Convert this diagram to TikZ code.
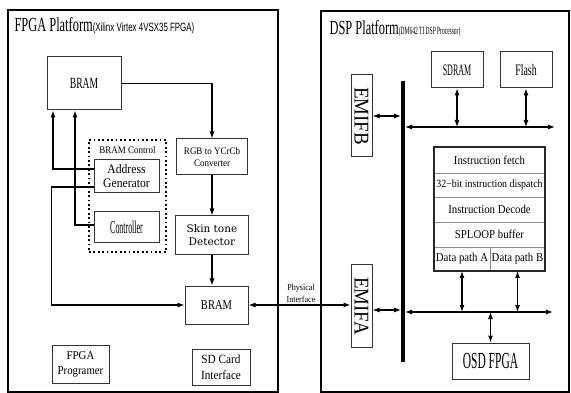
\documentclass[tikz,border=0pt]{standalone}
\usepackage{fontspec}
\usepackage{graphicx}
\setmainfont{Liberation Serif}
\newfontfamily\ftA[FakeStretch=0.9]{Liberation Serif}
\newfontfamily\ftB[FakeStretch=0.78]{Liberation Serif}
\newfontfamily\ftC[FakeStretch=0.62]{Liberation Serif}
\newfontfamily\ftD[FakeStretch=0.5]{Liberation Serif}
\newfontfamily\ftE[FakeStretch=0.44]{Liberation Serif}
\newfontfamily\ftsub[FakeStretch=0.66]{Liberation Sans}
\newfontfamily\ftwide{DejaVu Serif}
\newcommand{\sz}[2]{\fontsize{#1}{#2}\selectfont}
\usetikzlibrary{positioning,calc,arrows.meta,fit}
\tikzset{
	blk/.style={draw=black!80, line width=1pt, fill=white, inner sep=1pt, align=center},
	row/.style={draw=black!45, line width=0.6pt, inner sep=0pt, outer sep=0pt,
		minimum width=111pt, minimum height=25pt, align=center, font=\ftA\sz{12}{14}},
	arr/.style={line width=1.1pt, -{Latex[length=7pt,width=5pt]}},
	darr/.style={line width=1.1pt, {Latex[length=7pt,width=5pt]}-{Latex[length=7pt,width=5pt]}},
}

\begin{document}
\begin{tikzpicture}[x=1pt,y=-1pt]
	\useasboundingbox (0,0) rectangle (571,393);
	% platforms
	\node[draw, line width=1.2pt, minimum width=270pt, minimum height=382pt, inner sep=0] (fpga) at (143,201) {};
	\node[draw, line width=1.2pt, minimum width=248pt, minimum height=381pt, inner sep=0] (dsp) at (445,201.5) {};
	\node[anchor=base west, inner sep=0] (fpgatitle) at ([xshift=7pt,yshift=-22pt]fpga.north west)
		{{\ftC\sz{20}{24}FPGA Platform}{\ftsub\sz{12}{14}(Xilinx Virtex 4VSX35 FPGA)}};
	\node[anchor=base west, inner sep=0] (dsptitle) at ([xshift=9pt,yshift=-24pt]dsp.north west)
		{{\ftC\sz{20}{24}DSP Platform}{\ftD\sz{11}{13}(DM642 TI DSP Processor)}};

	% FPGA side
	\node[blk, minimum width=74pt, minimum height=53pt, font=\ftC\sz{15.5}{18}] (bramtop) at (84,83.5) {BRAM};
	\node[draw, line width=1.6pt, dash pattern=on 1.8pt off 2.6pt, minimum width=77pt, minimum height=112pt] (bramctl) at (127.5,196) {};
	\node[font=\ftA\sz{10}{12}] (bramctltxt) at ([yshift=-11pt]bramctl.north) {BRAM Control};
	\node[blk, minimum width=65pt, minimum height=33pt, font=\ftA\sz{13}{14}] (addr) at (126.5,176.5) {Address\\Generator};
	\node[blk, minimum width=65pt, minimum height=31pt, font=\ftE\sz{18}{20}] (ctrl) at (126.5,227.5) {Controller};
	\node[blk, minimum width=71pt, minimum height=36pt, font=\ftA\sz{10}{12}] (rgb) at (212,157) {RGB to YCrCb\\Converter};
	\node[blk, minimum width=73pt, minimum height=39pt, font=\ftwide\sz{10.5}{13}] (skin) at (212,235.5) {Skin tone\\Detector};
	\node[blk, minimum width=63pt, minimum height=38pt, font=\ftB\sz{13.5}{16}] (brambot) at (216.5,305) {BRAM};
	\node[blk, minimum width=57pt, minimum height=38pt, font=\ftA\sz{12}{15}] (prog) at (80.5,364) {FPGA\\Programer};
	\node[blk, minimum width=58pt, minimum height=36pt, font=\ftA\sz{12.5}{16}] (sdcard) at (221,367) {SD Card\\Interface};

	\draw[arr] (bramtop.east) -| (rgb.north);
	\draw[arr] (rgb.south) -- (skin.north);
	\draw[arr] (skin.south) -- (skin.south |- brambot.north);
	\draw[arr] ([yshift=7.5pt]addr.west) -| ([xshift=-31pt]bramtop.south);
	\draw[arr] ([yshift=2.5pt]ctrl.west) -| ([xshift=-9pt]bramtop.south);
	\draw[arr] ([yshift=-10.5pt]addr.west) -- ++(-42,0) |- (brambot.west);

	% DSP side
	\node[blk, minimum width=52pt, minimum height=36pt, font=\ftD\sz{16}{18}] (sdram) at (457,70) {SDRAM};
	\node[blk, minimum width=52pt, minimum height=36pt, font=\ftC\sz{16}{18}] (flash) at (526,70) {Flash};
	\node[blk, minimum width=21pt, minimum height=82pt, font=\ftA\sz{21}{24}] (emifb) at (361.5,116) {\rotatebox{-90}{EMIFB}};
	\node[blk, minimum width=21pt, minimum height=82pt, font=\ftA\sz{21}{24}] (emifa) at (361.5,306) {\rotatebox{-90}{EMIFA}};

	\draw[darr] (brambot.east) -- (brambot.east -| emifa.west);
	\node[font=\ftA\sz{9}{12}, align=center] (phys) at (301,293) {Physical\\Interface};

	\coordinate (busT) at (403,81);
	\coordinate (busB) at (403,362);
	\draw[line width=4pt] (busT) -- (busB);
	\coordinate (upR) at (555,127);
	\coordinate (loR) at (553,312);

	\draw[darr, shorten <=2pt] (busT |- upR) -- (upR);
	\draw[darr] (sdram.south) -- (sdram.south |- upR);
	\draw[darr] (flash.south) -- (flash.south |- upR);
	\draw[darr, shorten >=2pt] (emifb.east) -- (emifb.east -| busT);
	\draw[darr, shorten >=2pt] ([yshift=-4pt]emifa.east) -- ([yshift=-4pt]emifa.east -| busT);

	% processor core
	\node[row, minimum height=26pt] (ifetch) at (489.5,160) {Instruction fetch};
	\node[row, minimum height=24pt, font=\ftA\sz{11}{13}, below=0pt of ifetch] (idisp) {32−bit instruction dispatch};
	\node[row, below=0pt of idisp] (idec) {Instruction Decode};
	\node[row, below=0pt of idec] (sploop) {SPLOOP buffer};
	\node[row, minimum width=56pt, minimum height=24pt, anchor=north west] (dpa) at (sploop.south west) {Data path A};
	\node[row, minimum width=55pt, minimum height=24pt, anchor=north west] (dpb) at (dpa.north east) {Data path B};
	\node[draw=black!85, line width=1.1pt, fit=(ifetch)(dpb), inner sep=0pt] (instr) {};

	\draw[darr, shorten <=2pt] (busT |- loR) -- (loR);
	\draw[darr] (dpa.south) -- (dpa.south |- loR);
	\draw[darr] (dpb.south) -- (dpb.south |- loR);
	\node[blk, minimum width=77pt, minimum height=36pt, font=\ftD\sz{23}{26}] (osd) at (490.5,361) {OSD FPGA};
	\draw[darr] (osd.north) -- (osd.north |- loR);
\end{tikzpicture}
\end{document}
